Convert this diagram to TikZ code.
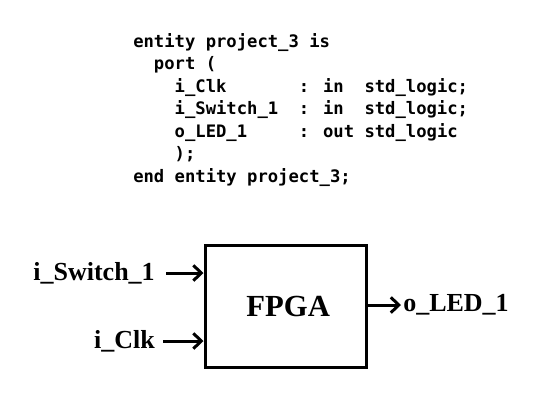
\documentclass[tikz,border=0pt]{standalone}
\usepackage{fontspec}
\setmainfont{Liberation Serif}
\newfontfamily\codefont{DejaVu Sans Mono}[WordSpace={1,0,0}]
\usetikzlibrary{arrows.meta}
\tikzset{
  codeline/.style={anchor=base west, inner sep=0pt, font=\codefont\bfseries\fontsize{12.9pt}{15pt}\selectfont},
  sig/.style={inner sep=0pt, font=\bfseries\fontsize{19.5pt}{22pt}\selectfont},
  chip/.style={draw, line width=2.25pt, inner sep=0pt, minimum width=120.75pt, minimum height=91.5pt,
    font=\bfseries\fontsize{23pt}{26pt}\selectfont},
  arr/.style={line width=2.25pt, -{Straight Barb[length=6pt,width=11.5pt,line width=2.25pt]}}
}
\begin{document}
\begin{tikzpicture}[x=0.75pt,y=-0.75pt]
\useasboundingbox (0,0) rectangle (559,401);
% code listing
\node[codeline] (c1) at (133,47)    {entity project\_3 is};
\node[codeline] (c2) at (133,69.5)  {~~port (};
\node[codeline] (c3) at (133,92)    {~~~~i\_Clk~~~~~~~: in~~std\_logic;};
\node[codeline] (c4) at (133,114.5) {~~~~i\_Switch\_1~~: in~~std\_logic;};
\node[codeline] (c5) at (133,137)   {~~~~o\_LED\_1~~~~~: out std\_logic};
\node[codeline] (c6) at (133,159.5) {~~~~);};
\node[codeline] (c7) at (133,182)   {end entity project\_3;};
% block diagram
\node[chip] (fpga) at (285.5,306) {\hspace*{4pt}FPGA};
\node[sig, anchor=east] (sw)  at (155,273) {i\_Switch\_1};
\node[sig, anchor=east] (clk) at (155,341) {i\_Clk};
\node[sig, anchor=west] (led) at (403,305) {o\_LED\_1};
\draw[arr] ([xshift=8.5pt]sw.east) -- (sw.east -| fpga.west);
\draw[arr] ([xshift=6pt]clk.east) -- (clk.east -| fpga.west);
\draw[arr] (led.west -| fpga.east) -- ([xshift=-1.5pt]led.west);
\end{tikzpicture}
\end{document}
